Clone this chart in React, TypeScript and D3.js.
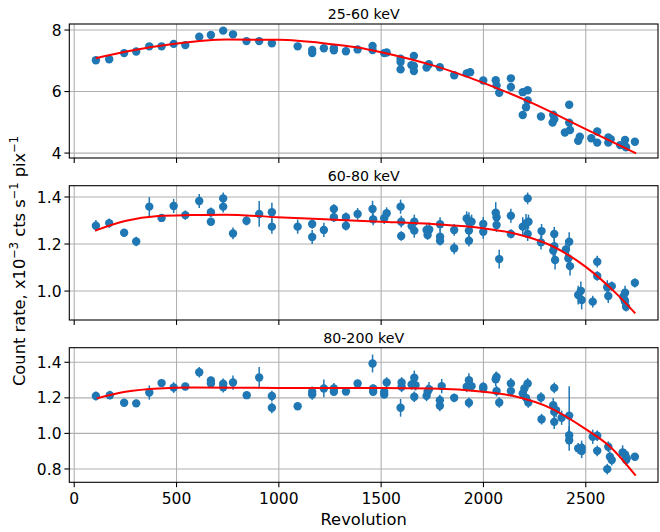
import React from "react";
import * as d3 from "d3";

type Pt = [number, number, number];

const xTicks = [0, 500, 1000, 1500, 2000, 2500];
const panelTitles = ["25-60 keV", "60-80 keV", "80-200 keV"];
const yTicks1 = [4, 6, 8];
const yTicks2 = [1.0, 1.2, 1.4];
const yTicks3 = [0.8, 1.0, 1.2, 1.4];

const band1: Pt[] = [
  [106,7.02,0.05],[171,7.05,0.05],[244,7.25,0.05],[303,7.30,0.05],[367,7.47,0.05],[427,7.47,0.05],[486,7.55,0.05],[543,7.51,0.05],
  [611,7.78,0.05],[668,7.84,0.05],[728,7.98,0.05],[776,7.86,0.05],[842,7.64,0.05],[904,7.64,0.05],[966,7.57,0.05],[1092,7.47,0.05],
  [1163,7.35,0.05],[1163,7.25,0.05],[1220,7.41,0.05],[1269,7.41,0.05],[1269,7.34,0.05],[1328,7.31,0.05],[1385,7.37,0.05],[1458,7.48,0.05],
  [1458,7.35,0.05],[1515,7.25,0.05],[1527,7.27,0.05],[1595,7.07,0.05],[1595,6.96,0.05],[1595,6.72,0.05],[1660,7.16,0.05],[1648,6.86,0.05],
  [1660,6.83,0.05],[1660,6.67,0.05],[1722,6.78,0.05],[1733,6.89,0.05],[1787,6.79,0.05],[1857,6.53,0.05],[1918,6.59,0.05],[1935,6.63,0.05],
  [1999,6.36,0.05],[2060,6.37,0.05],[2064,6.20,0.05],[2077,5.96,0.05],[2134,6.43,0.05],[2134,6.15,0.05],[2192,5.98,0.05],[2216,6.04,0.05],
  [2216,5.71,0.05],[2208,5.49,0.05],[2192,5.24,0.05],[2281,5.19,0.05],[2341,5.25,0.05],[2346,5.10,0.05],[2338,4.99,0.05],[2419,5.57,0.05],
  [2419,4.99,0.05],[2398,4.67,0.05],[2423,4.75,0.05],[2471,4.53,0.05],[2463,4.40,0.05],[2527,4.48,0.05],[2556,4.70,0.05],[2556,4.34,0.05],
  [2610,4.51,0.05],[2610,4.34,0.05],[2622,4.45,0.05],[2668,4.26,0.05],[2692,4.43,0.05],[2692,4.23,0.05],[2697,4.19,0.05],[2740,4.37,0.05],
];

const band2: Pt[] = [
  [106,1.278,0.024],[171,1.289,0.02],[244,1.248,0.01],[303,1.211,0.02],[367,1.359,0.04],[427,1.311,0.015],[486,1.362,0.03],[543,1.323,0.02],
  [611,1.383,0.03],[668,1.335,0.02],[668,1.295,0.015],[728,1.394,0.025],[728,1.359,0.025],[776,1.245,0.025],[842,1.299,0.02],[904,1.328,0.055],
  [966,1.335,0.04],[966,1.274,0.03],[1092,1.274,0.03],[1163,1.285,0.02],[1163,1.230,0.03],[1220,1.260,0.03],[1269,1.349,0.02],[1269,1.314,0.02],
  [1328,1.314,0.02],[1328,1.278,0.02],[1385,1.328,0.025],[1458,1.349,0.035],[1461,1.305,0.025],[1515,1.310,0.025],[1527,1.331,0.025],
  [1595,1.359,0.03],[1598,1.295,0.025],[1598,1.234,0.02],[1649,1.277,0.03],[1662,1.295,0.03],[1662,1.257,0.03],[1722,1.260,0.03],
  [1735,1.262,0.03],[1727,1.238,0.02],[1788,1.284,0.03],[1788,1.231,0.03],[1788,1.214,0.02],[1857,1.260,0.025],[1857,1.182,0.025],
  [1918,1.309,0.03],[1929,1.295,0.04],[1929,1.257,0.03],[1929,1.214,0.025],[1942,1.295,0.03],[1999,1.285,0.03],[1999,1.252,0.03],
  [2060,1.333,0.045],[2064,1.314,0.03],[2064,1.281,0.03],[2077,1.136,0.04],[2134,1.320,0.03],[2134,1.243,0.02],[2192,1.274,0.04],
  [2208,1.288,0.04],[2216,1.394,0.025],[2216,1.243,0.03],[2220,1.295,0.03],[2284,1.255,0.03],[2281,1.207,0.03],[2346,1.243,0.03],
  [2346,1.191,0.04],[2341,1.172,0.03],[2350,1.132,0.04],[2403,1.177,0.04],[2419,1.210,0.04],[2415,1.139,0.04],[2423,1.106,0.04],
  [2463,0.983,0.04],[2476,1.001,0.04],[2480,0.962,0.04],[2534,0.955,0.025],[2556,1.125,0.025],[2556,1.064,0.02],[2610,0.979,0.03],
  [2605,1.016,0.03],[2627,1.021,0.02],[2683,0.976,0.03],[2690,0.962,0.03],[2692,0.993,0.03],[2692,0.955,0.03],[2697,0.933,0.02],[2740,1.035,0.02],
];

const band3: Pt[] = [
  [106,1.210,0.025],[174,1.215,0.025],[244,1.172,0.012],[303,1.169,0.02],[367,1.230,0.04],[427,1.283,0.015],[486,1.258,0.03],[543,1.264,0.02],
  [611,1.344,0.03],[668,1.298,0.02],[668,1.281,0.02],[728,1.279,0.03],[728,1.260,0.03],[776,1.286,0.04],[843,1.215,0.015],[904,1.314,0.06],
  [966,1.210,0.03],[966,1.144,0.03],[1092,1.153,0.02],[1163,1.234,0.03],[1163,1.219,0.03],[1220,1.253,0.05],[1269,1.253,0.03],[1269,1.234,0.02],
  [1328,1.236,0.02],[1385,1.281,0.02],[1458,1.393,0.05],[1461,1.253,0.02],[1461,1.234,0.02],[1515,1.234,0.02],[1515,1.219,0.02],[1527,1.286,0.03],
  [1595,1.144,0.05],[1600,1.262,0.03],[1600,1.286,0.03],[1649,1.275,0.03],[1662,1.313,0.04],[1662,1.206,0.03],[1668,1.271,0.03],[1722,1.211,0.03],
  [1727,1.234,0.04],[1734,1.249,0.04],[1787,1.187,0.03],[1787,1.155,0.03],[1796,1.266,0.04],[1857,1.200,0.025],[1918,1.262,0.03],[1929,1.299,0.04],
  [1929,1.172,0.03],[1942,1.266,0.03],[1999,1.262,0.025],[1999,1.253,0.025],[2060,1.305,0.04],[2064,1.318,0.03],[2064,1.238,0.03],[2077,1.174,0.03],
  [2134,1.281,0.03],[2134,1.238,0.03],[2192,1.225,0.03],[2200,1.253,0.03],[2216,1.281,0.03],[2208,1.200,0.04],[2219,1.174,0.03],[2281,1.202,0.03],
  [2284,1.080,0.03],[2346,1.256,0.03],[2341,1.159,0.04],[2346,1.121,0.04],[2346,1.065,0.04],[2355,1.131,0.04],[2382,1.088,0.04],[2419,1.100,0.165],
  [2419,0.990,0.05],[2419,0.962,0.06],[2463,0.916,0.03],[2480,0.919,0.04],[2480,0.901,0.04],[2534,0.981,0.04],[2556,0.987,0.03],[2556,0.902,0.03],
  [2605,0.799,0.03],[2610,0.925,0.03],[2618,0.869,0.03],[2627,0.850,0.03],[2680,0.893,0.04],[2692,0.882,0.03],[2697,0.850,0.03],[2700,0.860,0.03],
  [2740,0.869,0.02],
];

const fit1: [number, number][] = [
  [105,7.08],[255,7.30],[501,7.56],[745,7.69],[1000,7.68],[1232,7.56],[1386,7.43],[1500,7.28],[1753,6.85],[1993,6.30],[2236,5.63],[2500,4.78],[2746,3.99],
];
const fit2: [number, number][] = [
  [102,1.257],[248,1.298],[411,1.319],[574,1.323],[737,1.325],[992,1.314],[1225,1.305],[1500,1.295],[1751,1.285],[1999,1.267],[2162,1.243],[2325,1.196],[2500,1.103],[2652,0.987],[2742,0.905],
];
const fit3: [number, number][] = [
  [110,1.197],[250,1.234],[414,1.253],[577,1.258],[995,1.256],[1375,1.256],[1500,1.256],[1751,1.253],[1999,1.234],[2162,1.206],[2325,1.144],[2500,1.024],[2619,0.925],[2744,0.762],
];

const FONT = "DejaVu Sans, sans-serif";
const BLUE = "#1f77b4";
const LEFT = 69.3;
const RIGHT = 658;
const TICK_FS = 15.5;
const TITLE_FS = 14.2;
const LABEL_FS = 16.3;
const SUP_FS = 11.4;

const panels = [
  { title: panelTitles[0], data: band1, fit: fit1, top: 24, bottom: 158, domain: [3.84, 8.196], ticks: yTicks1, fmt: (v: number) => String(v), xLabels: false },
  { title: panelTitles[1], data: band2, fit: fit2, top: 185.7, bottom: 320, domain: [0.877, 1.448], ticks: yTicks2, fmt: (v: number) => v.toFixed(1), xLabels: false },
  { title: panelTitles[2], data: band3, fit: fit3, top: 347.7, bottom: 482.3, domain: [0.725, 1.482], ticks: yTicks3, fmt: (v: number) => v.toFixed(1), xLabels: true },
];

export default function App() {
  const x = d3.scaleLinear().domain([-24, 2853]).range([LEFT, RIGHT]);
  return (
    <svg width={660} height={532} style={{ position: "absolute", left: 0, top: 0, background: "#fff" }} fontFamily={FONT}>
      {panels.map((p, i) => {
        const y = d3.scaleLinear().domain(p.domain).range([p.bottom, p.top]);
        const line = d3.line<[number, number]>().x((d) => x(d[0])).y((d) => y(d[1])).curve(d3.curveMonotoneX);
        return (
          <g key={i}>
            <rect x={LEFT} y={p.top} width={RIGHT - LEFT} height={p.bottom - p.top} fill="#fff" />
            {xTicks.map((t) => (
              <line key={"gx" + t} x1={x(t)} x2={x(t)} y1={p.top} y2={p.bottom} stroke="#b0b0b0" strokeWidth={1.1} />
            ))}
            {p.ticks.map((t) => (
              <line key={"gy" + t} x1={LEFT} x2={RIGHT} y1={y(t)} y2={y(t)} stroke="#b0b0b0" strokeWidth={1.1} />
            ))}
            {p.data.map((d, j) => (
              <line key={"e" + j} x1={x(d[0])} x2={x(d[0])} y1={y(d[1] - d[2])} y2={y(d[1] + d[2])} stroke={BLUE} strokeWidth={1.5} />
            ))}
            {p.data.map((d, j) => (
              <circle key={"c" + j} cx={x(d[0])} cy={y(d[1])} r={4.2} fill={BLUE} />
            ))}
            <path d={line(p.fit) || ""} fill="none" stroke="red" strokeWidth={2} />
            <rect x={LEFT} y={p.top} width={RIGHT - LEFT} height={p.bottom - p.top} fill="none" stroke="#000" strokeWidth={1.1} />
            {xTicks.map((t) => (
              <g key={"tx" + t}>
                <line x1={x(t)} x2={x(t)} y1={p.bottom} y2={p.bottom + 4.9} stroke="#000" strokeWidth={1.1} />
                {p.xLabels && (
                  <text x={x(t)} y={p.bottom + 22} textAnchor="middle" fontSize={TICK_FS} fill="#000">{t}</text>
                )}
              </g>
            ))}
            {p.ticks.map((t) => (
              <g key={"ty" + t}>
                <line x1={LEFT - 4.9} x2={LEFT} y1={y(t)} y2={y(t)} stroke="#000" strokeWidth={1.1} />
                <text x={LEFT - 7.8} y={y(t)} dy="0.36em" textAnchor="end" fontSize={TICK_FS} fill="#000">{p.fmt(t)}</text>
              </g>
            ))}
            <text x={(LEFT + RIGHT) / 2} y={p.top - 5} textAnchor="middle" fontSize={TITLE_FS} fill="#000">{p.title}</text>
          </g>
        );
      })}
      <text x={(LEFT + RIGHT) / 2} y={525} textAnchor="middle" fontSize={LABEL_FS} fill="#000">Revolution</text>
      <text transform="translate(25,261) rotate(-90)" textAnchor="middle" fontSize={LABEL_FS} fill="#000">
        Count rate, x10<tspan dy="-7" fontSize={SUP_FS}>−3</tspan>
        <tspan dy="7"> cts s</tspan><tspan dy="-7" fontSize={SUP_FS}>−1</tspan>
        <tspan dy="7"> pix</tspan><tspan dy="-7" fontSize={SUP_FS}>−1</tspan>
      </text>
    </svg>
  );
}
